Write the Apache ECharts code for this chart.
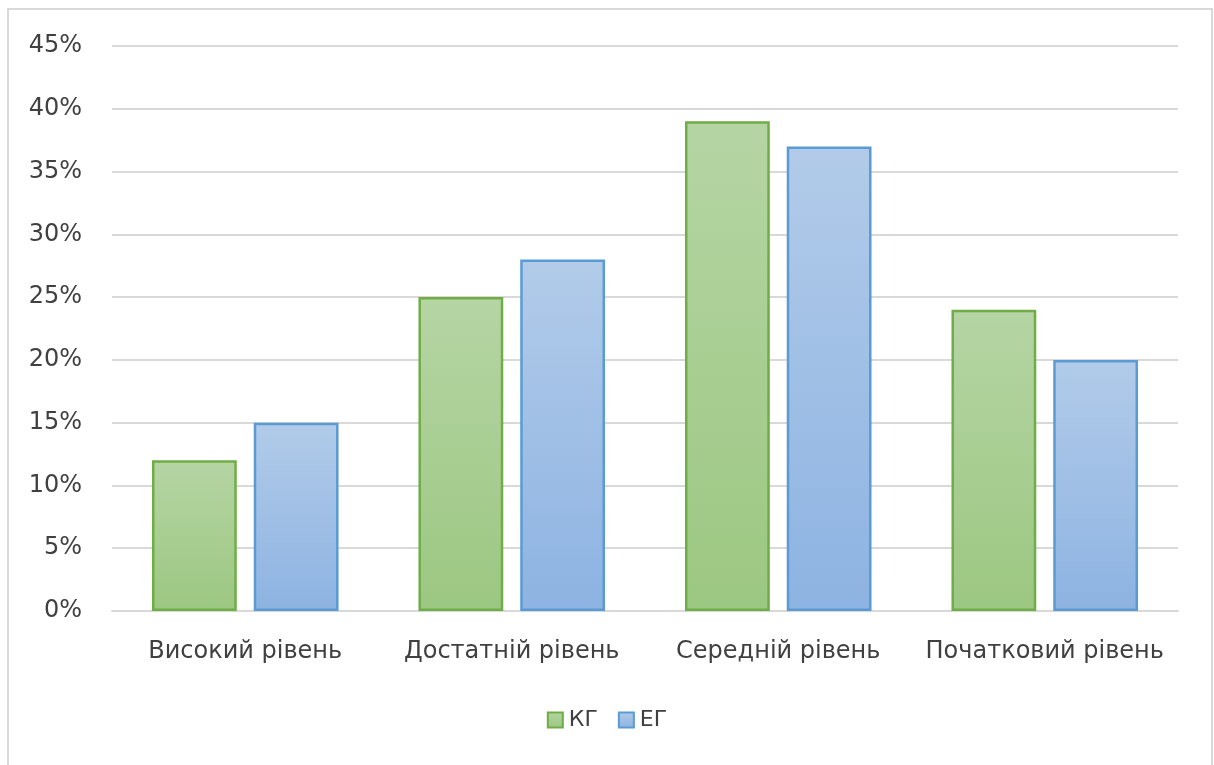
<!DOCTYPE html>
<html>
<head>
<meta charset="utf-8">
<script src="https://cdn.jsdelivr.net/npm/echarts@6/dist/echarts.min.js"></script>
<style>
  html, body { margin: 0; padding: 0; background: #fff; }
  #chart { width: 1214px; height: 765px; }
</style>
</head>
<body>
<div id="chart"></div>
<script>
// Розподіл рівнів: контрольна (КГ) та експериментальна (ЕГ) групи, %
const categories = ['Високий рівень', 'Достатній рівень', 'Середній рівень', 'Початковий рівень'];
const seriesNames = ['КГ', 'ЕГ'];
const kgValues = [12, 25, 39, 24];
const egValues = [15, 28, 37, 20];
const yTicks = { min: 0, max: 45, interval: 5 };

const FONT = '"DejaVu Sans", "Noto Sans", sans-serif';
const TEXT = '#404040';
const FS = 24;

function grad(top, bottom) {
  return new echarts.graphic.LinearGradient(0, 0, 0, 1, [
    { offset: 0, color: top },
    { offset: 1, color: bottom }
  ]);
}

const chart = echarts.init(document.getElementById('chart'), null, { renderer: 'canvas' });
chart.setOption({
  animation: false,
  backgroundColor: '#fff',
  graphic: [{
    type: 'rect',
    shape: { x: 8, y: 9, width: 1204, height: 800 },
    style: { fill: 'none', stroke: '#d9d9d9', lineWidth: 2 },
    silent: true
  }],
  grid: { left: 112, right: 36, top: 46, bottom: 154, containLabel: false },
  legend: {
    top: 704,
    left: 'center',
    itemWidth: 15,
    itemHeight: 15,
    itemGap: 20,
    icon: 'rect',
    textStyle: { fontFamily: FONT, fontSize: 22, color: TEXT, padding: [0, 0, 0, 1] },
    data: seriesNames
  },
  xAxis: {
    type: 'category',
    data: categories,
    axisLine: { show: true, lineStyle: { color: '#d9d9d9', width: 2 } },
    axisTick: { show: false },
    axisLabel: { fontFamily: FONT, fontSize: FS, color: TEXT, margin: 29, interval: 0 }
  },
  yAxis: {
    type: 'value',
    min: yTicks.min,
    max: yTicks.max,
    interval: yTicks.interval,
    axisLine: { show: false },
    axisTick: { show: false },
    splitLine: { lineStyle: { color: '#d9d9d9', width: 2 } },
    axisLabel: {
      fontFamily: FONT, fontSize: FS, color: TEXT, margin: 30,
      formatter: v => v + '%'
    }
  },
  series: [
    {
      name: seriesNames[0],
      type: 'bar',
      data: kgValues,
      barGap: '20%',
      barCategoryGap: '30%',
      itemStyle: { color: grad('#b5d5a4', '#9cc781'), borderColor: '#70ad47', borderWidth: 2.5 }
    },
    {
      name: seriesNames[1],
      type: 'bar',
      data: egValues,
      itemStyle: { color: grad('#b2cbe9', '#8db3e2'), borderColor: '#5b9bd5', borderWidth: 2.5 }
    }
  ]
});
</script>
</body>
</html>
